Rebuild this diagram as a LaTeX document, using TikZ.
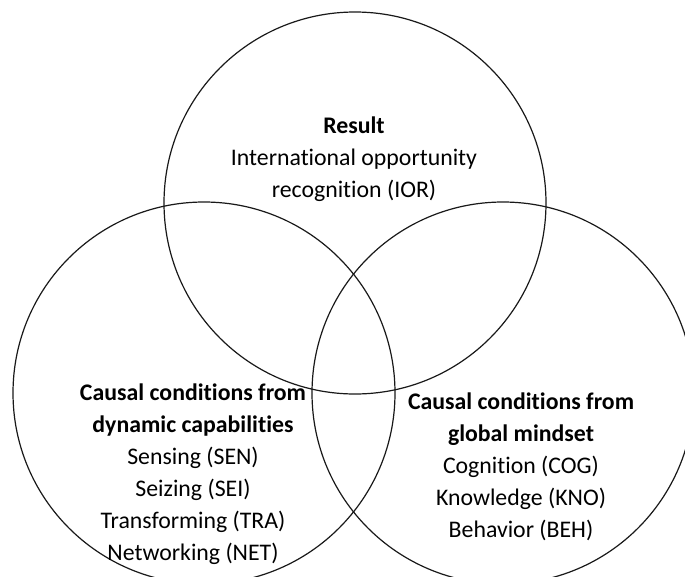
\documentclass[tikz,border=0pt]{standalone}
\usepackage{fontspec}
\setmainfont{Carlito}[Ligatures=NoCommon]
\begin{document}
\begin{tikzpicture}[x=1pt,y=-1pt,
  ring/.style={draw=black!90, line width=1.2pt, circle, minimum size=382pt, inner sep=0pt},
  lbl/.style={align=center, font=\fontsize{23.8}{32}\selectfont, inner sep=0pt}]
\useasboundingbox (0,0) rectangle (685,576);
\clip (0,0) rectangle (685,576);
\fill[white] (0,0) rectangle (685,576);
\node[ring] (top) at (355,203) {};
\node[ring] (left) at (204,393) {};
\node[ring] (right) at (503,393) {};
\node[lbl] (toptxt) at (354,159) {\textbf{Result}\\International opportunity\\recognition (IOR)};
\node[lbl] (lefttxt) at (193,474) {\textbf{Causal conditions from}\\\textbf{dynamic capabilities}\\Sensing (SEN)\\Seizing (SEI)\\Transforming (TRA)\\Networking (NET)};
\node[lbl] (righttxt) at (521,467) {\textbf{Causal conditions from}\\\textbf{global mindset}\\Cognition (COG)\\Knowledge (KNO)\\Behavior (BEH)};
\end{tikzpicture}
\end{document}
